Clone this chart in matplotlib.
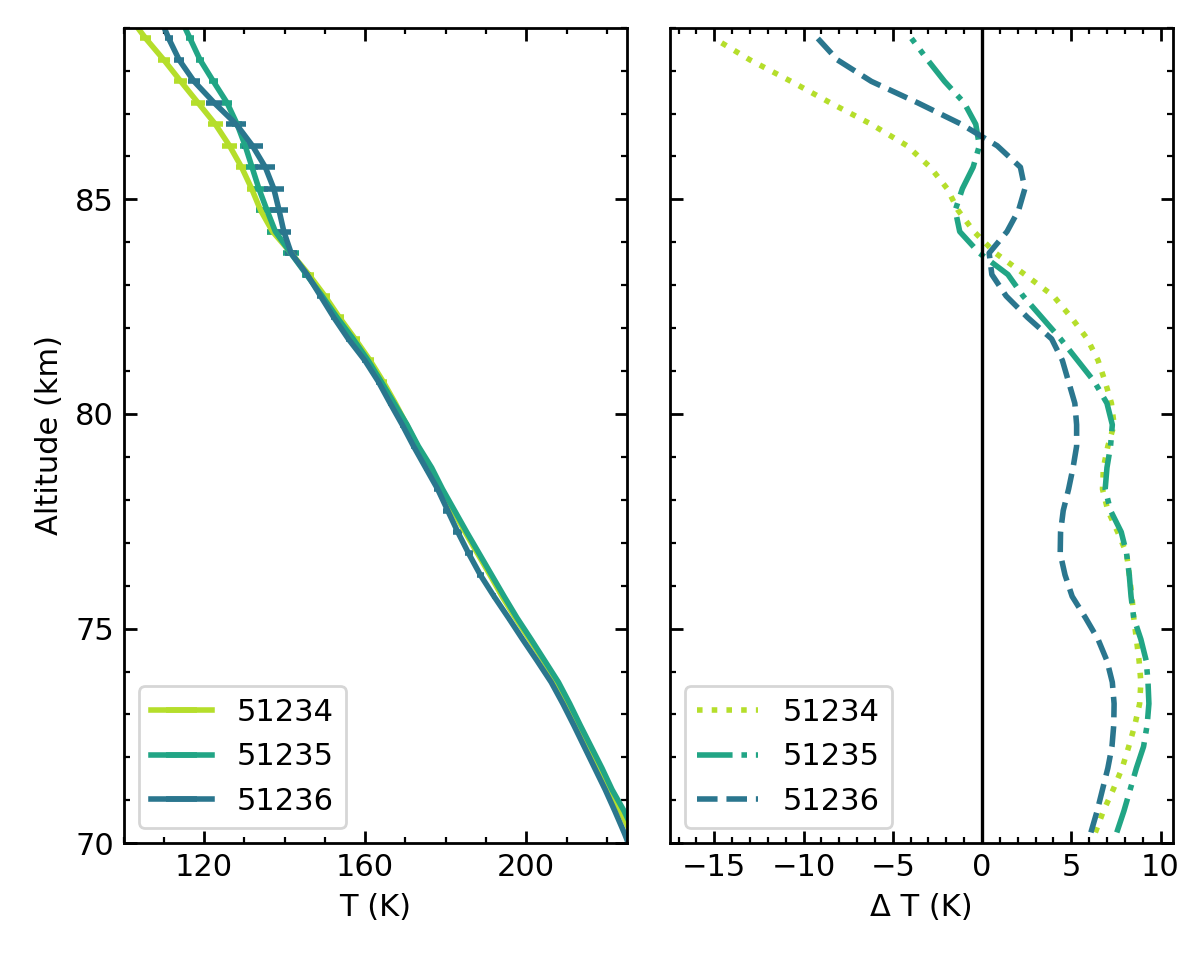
import matplotlib
matplotlib.use("Agg")
import matplotlib.pyplot as plt
import numpy as np
from matplotlib.ticker import MultipleLocator

# altitude grids (km)
alt_t = np.arange(69.75, 89.26, 0.5)
alt_dt = np.arange(70.25, 88.76, 0.5)

labels = ["51234", "51235", "51236"]
colors = ["#b5de2b", "#21a585", "#2a768e"]
styles = [":", "-.", "--"]

# temperature profiles (K), bottom to top
t_51234 = [228.0, 225.9, 223.4, 220.8, 218.3, 215.7, 213.0, 210.4, 207.5, 204.3,
           200.8, 197.3, 194.0, 191.0, 187.9, 184.8, 181.8, 178.8, 176.1, 173.0,
           170.3, 167.5, 164.5, 161.2, 157.5, 153.6, 150.0, 146.0, 141.6, 137.0,
           134.0, 131.8, 129.3, 126.3, 122.8, 118.5, 114.2, 110.0, 105.5, 101.5]
t_51235 = [229.0, 226.8, 224.3, 221.3, 218.8, 216.1, 213.4, 210.8, 208.0, 204.6,
           201.2, 197.7, 194.5, 191.4, 188.3, 185.2, 182.2, 179.2, 176.5, 173.2,
           170.4, 167.2, 164.0, 160.7, 157.0, 153.0, 149.3, 145.4, 141.5, 137.7,
           135.6, 133.6, 131.9, 130.2, 128.2, 125.7, 122.3, 119.0, 116.5, 114.0]
t_51236 = [226.4, 224.3, 222.0, 219.6, 217.0, 214.4, 211.8, 209.1, 206.2, 202.7,
           199.1, 195.6, 192.0, 188.6, 185.7, 183.0, 180.5, 178.0, 175.0, 172.0,
           169.2, 166.2, 163.3, 159.9, 155.8, 152.2, 148.9, 145.6, 141.6, 139.8,
           138.6, 137.3, 135.2, 132.0, 128.0, 122.5, 117.5, 113.8, 111.2, 109.0]

# temperature uncertainties (K)
err_51234 = [0.2, 0.2, 0.2, 0.2, 0.2, 0.2, 0.2, 0.2, 0.2, 0.3,
             0.3, 0.3, 0.3, 0.3, 0.3, 0.3, 0.3, 0.3, 0.4, 0.4,
             0.5, 0.5, 0.9, 1.0, 1.1, 1.2, 1.2, 1.3, 1.2, 1.3,
             1.2, 1.2, 1.3, 1.8, 1.8, 1.7, 1.6, 1.5, 1.4, 1.2]
err_51235 = [0.2, 0.2, 0.2, 0.2, 0.2, 0.2, 0.2, 0.2, 0.2, 0.2,
             0.2, 0.2, 0.3, 0.3, 0.3, 0.3, 0.3, 0.3, 0.3, 0.3,
             0.4, 0.4, 0.4, 0.5, 0.5, 0.6, 0.8, 1.0, 2.0, 2.2,
             2.8, 2.3, 1.6, 1.4, 1.3, 1.2, 1.1, 1.0, 0.9, 0.8]
err_51236 = [0.2, 0.2, 0.2, 0.2, 0.2, 0.2, 0.2, 0.2, 0.2, 0.3,
             0.3, 0.3, 0.4, 0.9, 1.0, 1.1, 1.1, 1.0, 0.5, 0.5,
             0.5, 0.5, 0.5, 0.6, 0.6, 0.7, 0.8, 1.0, 1.4, 1.8,
             2.3, 2.5, 2.5, 2.6, 2.5, 2.0, 1.5, 1.2, 1.0, 0.8]

# temperature differences (K), bottom to top
dt_51234 = [6.35, 6.8, 7.35, 7.85, 8.22, 8.56, 8.83, 8.9, 8.8, 8.65,
            8.5, 8.4, 8.25, 8.1, 7.6, 7.05, 6.75, 6.8, 7.05, 7.4,
            7.25, 6.9, 6.5, 5.9, 5.0, 4.0, 2.4, 0.75, -0.45, -1.35,
            -1.95, -2.9, -4.2, -6.2, -8.5, -10.7, -13.0, -15.0]
dt_51235 = [7.55, 7.95, 8.3, 8.65, 9.05, 9.25, 9.35, 9.3, 9.2, 8.9,
            8.5, 8.35, 8.25, 8.1, 7.8, 7.2, 6.9, 7.0, 7.2, 7.3,
            7.0, 6.3, 5.35, 4.4, 3.35, 2.3, 1.45, -0.15, -1.25, -1.5,
            -1.1, -0.5, -0.15, -0.35, -1.0, -2.1, -3.05, -3.95]
dt_51236 = [6.1, 6.45, 6.75, 7.05, 7.28, 7.38, 7.4, 7.3, 7.0, 6.5,
            5.8, 5.05, 4.65, 4.38, 4.4, 4.55, 4.85, 5.1, 5.3, 5.3,
            5.2, 4.85, 4.5, 3.9, 2.55, 1.35, 0.55, 0.4, 1.4, 2.05,
            2.4, 2.15, 0.85, -1.15, -3.6, -6.2, -8.1, -9.2]

temps = [t_51234, t_51235, t_51236]
errs = [err_51234, err_51235, err_51236]
dts = [dt_51234, dt_51235, dt_51236]

plt.rcParams.update({
    "font.size": 11,
    "axes.linewidth": 1.0,
    "xtick.direction": "in",
    "ytick.direction": "in",
    "xtick.top": True,
    "ytick.right": True,
    "xtick.major.size": 4.5,
    "ytick.major.size": 4.5,
    "xtick.minor.size": 2.2,
    "ytick.minor.size": 2.2,
    "xtick.major.width": 1.0,
    "ytick.major.width": 1.0,
    "xtick.minor.width": 0.8,
    "ytick.minor.width": 0.8,
})

fig, (ax1, ax2) = plt.subplots(1, 2, figsize=(6, 4.78), dpi=200, sharey=True)
fig.subplots_adjust(left=0.103, right=0.9775, bottom=0.118, top=0.971, wspace=0.085)

for t, e, c, lab in zip(temps, errs, colors, labels):
    ax1.errorbar(t, alt_t, xerr=e, color=c, lw=2, elinewidth=2, capsize=0, label=lab)

ax1.set_xlim(100, 225)
ax1.set_ylim(70, 89)
ax1.xaxis.set_major_locator(MultipleLocator(40))
ax1.xaxis.set_minor_locator(MultipleLocator(10))
ax1.yaxis.set_major_locator(MultipleLocator(5))
ax1.yaxis.set_minor_locator(MultipleLocator(1))
ax1.set_xlabel("T (K)")
ax1.set_ylabel("Altitude (km)")
ax1.legend(loc="lower left")

for d, c, ls, lab in zip(dts, colors, styles, labels):
    ax2.plot(d, alt_dt, color=c, ls=ls, lw=2, label=lab)
ax2.axvline(0, color="k", lw=1.2)

ax2.set_xlim(-17.5, 10.7)
ax2.xaxis.set_major_locator(MultipleLocator(5))
ax2.xaxis.set_minor_locator(MultipleLocator(1))
ax2.tick_params(axis="y", which="both", labelleft=False)
ax2.set_xlabel("Δ T (K)")
ax2.legend(loc="lower left")

fig.savefig("out.png", dpi=200)
